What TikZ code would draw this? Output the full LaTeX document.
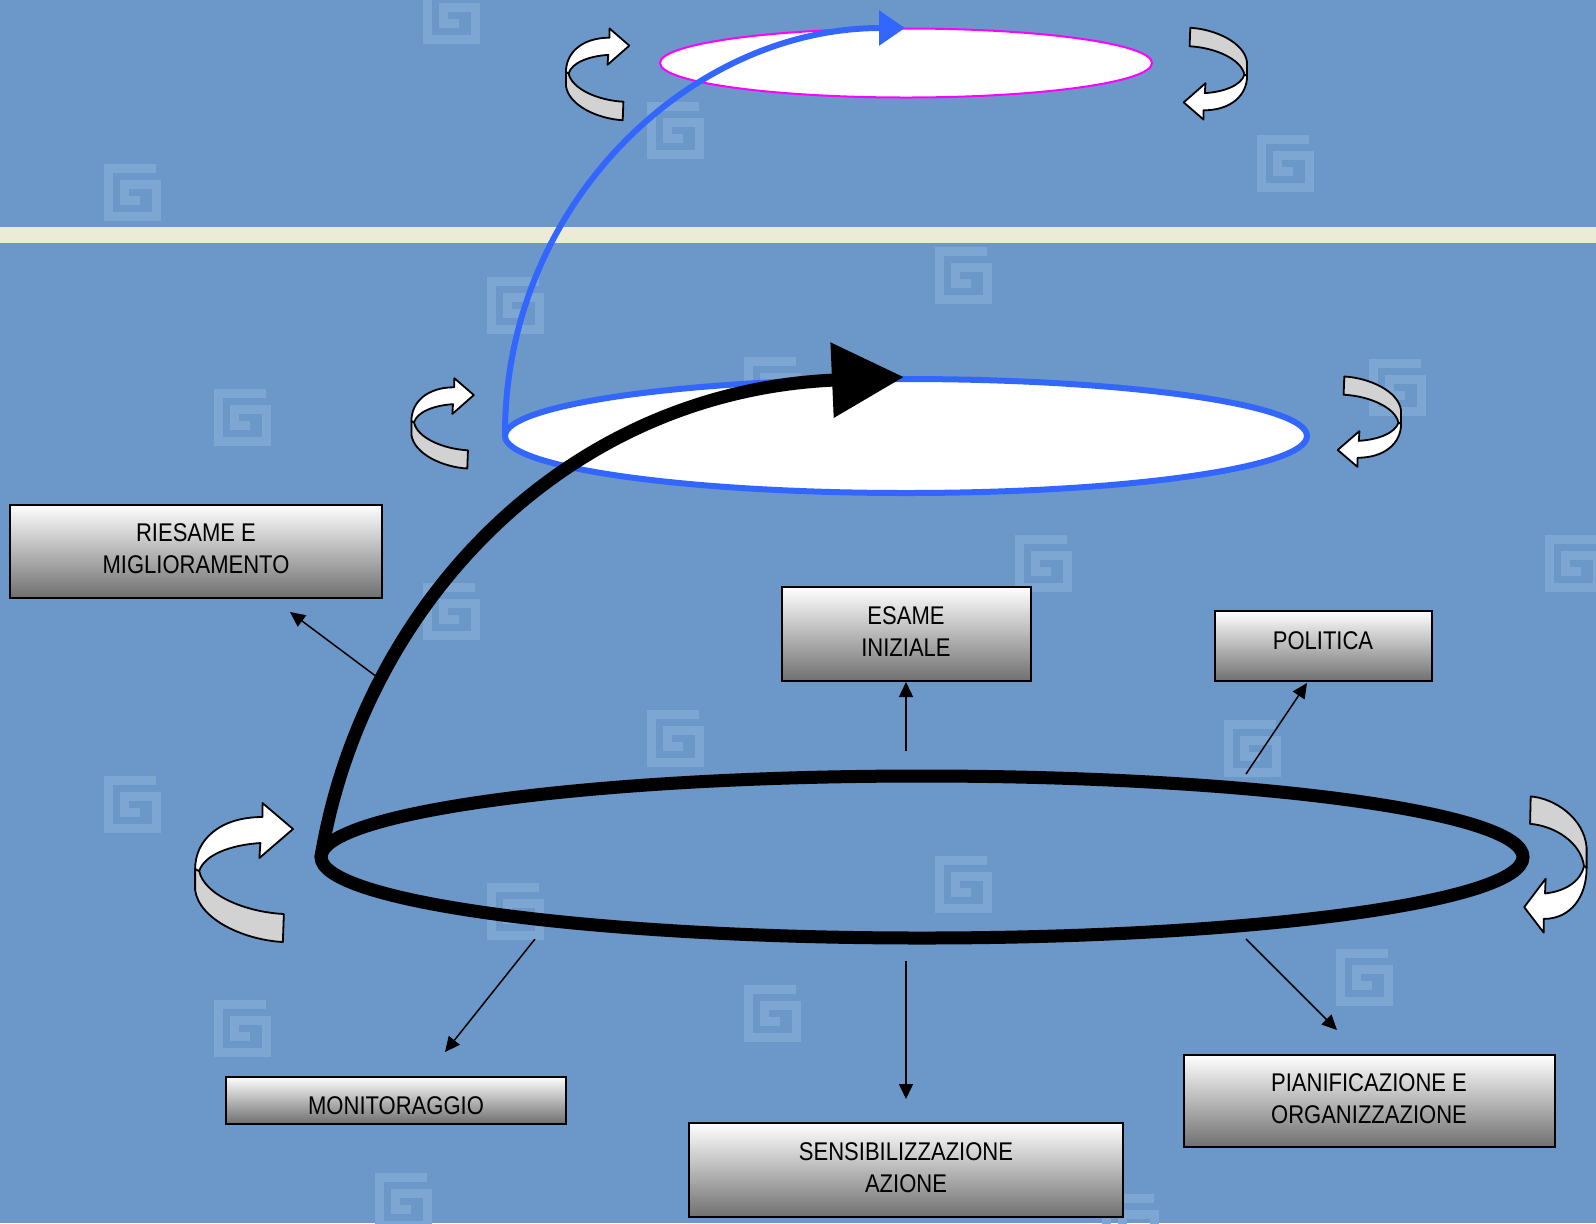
\documentclass[tikz,border=0pt]{standalone}
\usepackage{fontspec}
\setmainfont[FakeStretch=0.86]{Liberation Sans}
\usetikzlibrary{arrows.meta,shapes.geometric}
\definecolor{bgblue}{RGB}{107,152,200}
\definecolor{markblue}{RGB}{126,166,211}
\definecolor{bandcream}{RGB}{236,235,214}
\definecolor{ringblue}{RGB}{51,102,255}
\definecolor{ringpink}{RGB}{255,0,255}
\definecolor{boxgray}{RGB}{112,112,112}
\definecolor{curlgray}{RGB}{210,210,210}

\tikzset{
  box/.style={draw=black, line width=1pt, top color=white, bottom color=boxgray,
    inner sep=0pt, align=center, font=\fontsize{12.8}{15.7}\selectfont},
  link/.style={-{Triangle[length=7.5pt,width=7pt]}, line width=0.75pt},
  ring/.style={ellipse, inner sep=0pt, outer sep=0pt},
  keymark/.pic={
    \draw[markblue, line width=4.5pt] (24,-24) -- (-24,-24) -- (-24,24) -- (24,24)
      -- (24,-8) -- (-8,-8) -- (-8,8) -- (8,8);
  },
  turnarrow/.pic={
    \filldraw[fill=curlgray, line width=0.9pt, line join=round] (-44,-3) -- (-44,18)
      .. controls (-40,48) and (5,68) .. (42,70) -- (43,42)
      .. controls (5,40) and (-35,23) .. (-40,-1) -- cycle;
    \filldraw[fill=white, line width=0.9pt, line join=round] (-44,-3)
      .. controls (-44,-32) and (-20,-55) .. (22,-55) -- (22,-69) -- (52,-43)
      -- (19,-14) -- (20,-29) .. controls (-10,-27) and (-35,-17) .. (-40,-1) -- cycle;
  }
}

\begin{document}
\begin{tikzpicture}[x=0.5pt, y=-0.5pt]
  \useasboundingbox (0,0) rectangle (1596,1223);
  \clip (0,0) rectangle (1596,1223);
  \fill[bgblue] (0,0) rectangle (1596,1223);

  \foreach \x/\y in {451/15, 132/192, 675/130, 1285/163, 515/305, 963/275, 242/417,
      1397/387, 772/385, 1043/563, 1573/563, 451/611, 675/738, 1252/748, 132/804,
      963/884, 515/911, 242/1028, 772/1013, 1364/977, 403/1201, 1130/1222}
    \pic at (\x,\y) {keymark};

  \fill[bandcream] (0,227) rectangle (1596,243);

  \node[ring, draw=ringpink, fill=white, line width=1pt,
    minimum width=246pt, minimum height=34.5pt] (top) at (906,63) {};
  \node[ring, draw=ringblue, fill=white, line width=3pt,
    minimum width=401pt, minimum height=57pt] (mid) at (906,436) {};
  \coordinate (t1) at (905,28);
  \draw[ringblue, line width=3pt, -{Triangle[length=13pt,width=17pt]}]
    (mid.west) .. controls (504,205) and (690,28) .. (t1);

  \node[ring, draw=black, line width=6.5pt,
    minimum width=601pt, minimum height=81pt] (low) at (922,857) {};
  \coordinate (t2) at (904,377);
  \draw[line width=6.5pt, -{Triangle[length=36pt,width=36pt]}]
    (low.west) .. controls (362,610) and (560,392) .. (t2);

  \pic[xscale=1.02] at (240,872) {turnarrow};
  \pic[scale=0.65] at (440,423) {turnarrow};
  \pic[scale=0.66] at (595,74) {turnarrow};
  \pic[rotate=180, xscale=0.65, yscale=0.98] at (1558,865) {turnarrow};
  \pic[rotate=180, xscale=0.66, yscale=0.65] at (1372,422) {turnarrow};
  \pic[rotate=180, scale=0.66] at (1218,74) {turnarrow};

  \node[box, minimum width=186pt, minimum height=46.5pt, text depth=2.5pt] (b1) at (196,551) {RIESAME E\\MIGLIORAMENTO};
  \node[box, minimum width=124.5pt, minimum height=47pt, text depth=2.5pt] (b2) at (906,634) {ESAME\\INIZIALE};
  \node[box, minimum width=108.5pt, minimum height=35pt, text height=9pt, text depth=6pt] (b3) at (1323,646) {POLITICA};
  \node[box, minimum width=170pt, minimum height=23.5pt, text height=14pt, text depth=0pt] (b4) at (396,1100) {MONITORAGGIO};
  \node[box, minimum width=217pt, minimum height=47pt, text depth=2.5pt] (b5) at (906,1170) {SENSIBILIZZAZIONE\\AZIONE};
  \node[box, minimum width=185.5pt, minimum height=46pt, text depth=2.5pt] (b6) at (1369,1101) {PIANIFICAZIONE E\\ORGANIZZAZIONE};

  \coordinate (s1) at (377,677);  \coordinate (e1) at (290,612);
  \coordinate (s2) at (906,751);
  \coordinate (s3) at (1246,774); \coordinate (e3) at (1307,683);
  \coordinate (s4) at (535,939);  \coordinate (e4) at (445,1052);
  \coordinate (s5) at (906,961);  \coordinate (e5) at (906,1099);
  \coordinate (s6) at (1246,939); \coordinate (e6) at (1337,1030);
  \draw[link] (s1) -- (e1);
  \draw[link] (s2) -- (b2.south);
  \draw[link] (s3) -- (e3);
  \draw[link] (s4) -- (e4);
  \draw[link] (s5) -- (e5);
  \draw[link] (s6) -- (e6);
\end{tikzpicture}
\end{document}
